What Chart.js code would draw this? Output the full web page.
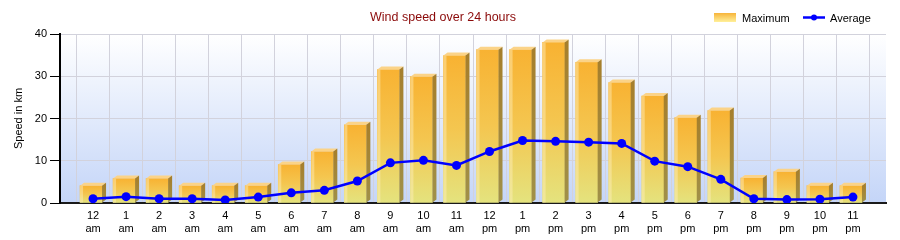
<!DOCTYPE html>
<html><head><meta charset="utf-8">
<script src="https://cdn.jsdelivr.net/npm/chart.js@4.4.1/dist/chart.umd.min.js"></script>
<style>html,body{margin:0;padding:0;background:#fff}canvas{display:block}</style>
</head><body>
<canvas id="c" width="900" height="240"></canvas>
<script>
const hours = ['12','1','2','3','4','5','6','7','8','9','10','11','12','1','2','3','4','5','6','7','8','9','10','11'];
const periods = ['am','am','am','am','am','am','am','am','am','am','am','am','pm','pm','pm','pm','pm','pm','pm','pm','pm','pm','pm','pm'];
const maximum = [4.1,5.8,5.8,4.1,4.1,4.1,9.1,12.2,18.5,31.6,29.9,34.9,36.3,36.3,38.0,33.3,28.5,25.3,20.2,21.9,5.9,7.4,4.1,4.1];
const average = [1.0,1.5,1.0,1.0,0.7,1.4,2.4,3.0,5.2,9.5,10.1,8.9,12.2,14.8,14.6,14.4,14.1,9.9,8.6,5.6,1.0,0.8,0.9,1.4];
const yTicks = [0,10,20,30,40];
const titleText = 'Wind speed over 24 hours';
const yTitle = 'Speed in km';
const seriesNames = ['Maximum','Average'];

const FONT = "'Liberation Sans', Arial, sans-serif";
Chart.defaults.font.family = FONT;

// padded category list: empty slot before and after
const labels = [''].concat(hours.map((h,i)=>[h, periods[i]])).concat(['']);
const maxData = [null].concat(maximum).concat([null]);
const avgData = [null].concat(average).concat([null]);

const DEPTH_X = 4, DEPTH_Y = 3;

const bgPlugin = {
  id:'bg',
  beforeDraw(chart){
    const {ctx, chartArea:a} = chart;
    if(!a) return;
    const g = ctx.createLinearGradient(0,a.top,0,a.bottom);
    g.addColorStop(0,'#ffffff');
    g.addColorStop(1,'#c4d5f8');
    ctx.save(); ctx.fillStyle=g; ctx.fillRect(a.left,a.top,a.right-a.left,a.bottom-a.top); ctx.restore();
  }
};

const shiftPlugin = {
  id:'shift',
  afterDatasetsUpdate(chart){
    const meta = chart.getDatasetMeta(0);
    meta.data.forEach(el=>{ if(!el.$shifted){ el.x -= DEPTH_X/2; el.$shifted = true; } });
  }
};

const bar3d = {
  id:'bar3d',
  afterDatasetDraw(chart, args){
    if(args.index!==0) return;
    const ctx = chart.ctx;
    args.meta.data.forEach((el,i)=>{
      if(maxData[i]==null) return;
      const w = el.width, l = el.x - w/2, r = el.x + w/2, t = el.y, b = el.base;
      ctx.save();
      ctx.fillStyle='rgba(255,240,190,0.45)';
      ctx.fillRect(l, t, 3, b-t);
      ctx.beginPath();
      ctx.moveTo(l,t); ctx.lineTo(r,t); ctx.lineTo(r+DEPTH_X,t-DEPTH_Y); ctx.lineTo(l+DEPTH_X,t-DEPTH_Y); ctx.closePath();
      ctx.fillStyle='#fbd388'; ctx.fill();
      ctx.beginPath();
      ctx.moveTo(r,t); ctx.lineTo(r+DEPTH_X,t-DEPTH_Y); ctx.lineTo(r+DEPTH_X,b-DEPTH_Y); ctx.lineTo(r,b); ctx.closePath();
      const sg = ctx.createLinearGradient(0,t,0,b);
      sg.addColorStop(0,'#a67f2c'); sg.addColorStop(1,'#a09048');
      ctx.fillStyle=sg; ctx.fill();
      ctx.restore();
    });
  }
};

const legendPlugin = {
  id:'customLegend',
  afterDraw(chart){
    const ctx = chart.ctx;
    ctx.save();
    const g = ctx.createLinearGradient(0,13,0,22);
    g.addColorStop(0,'#f7b43a'); g.addColorStop(1,'#fff09a');
    ctx.fillStyle=g; ctx.fillRect(714,13,22,9);
    ctx.font = "11px " + FONT; ctx.fillStyle='#000'; ctx.textBaseline='middle'; ctx.textAlign='left';
    ctx.fillText(seriesNames[0], 742, 18.5);
    ctx.strokeStyle='#0000ff'; ctx.lineWidth=2.5;
    ctx.beginPath(); ctx.moveTo(803,17.5); ctx.lineTo(825,17.5); ctx.stroke();
    ctx.fillStyle='#0000ff'; ctx.beginPath(); ctx.arc(814,17.5,3,0,Math.PI*2); ctx.fill();
    ctx.fillStyle='#000';
    ctx.fillText(seriesNames[1], 830, 18.5);
    ctx.restore();
  }
};

function barGradient(context){
  const chart = context.chart;
  const a = chart.chartArea;
  if(!a || context.raw==null) return '#f6c048';
  const y = chart.scales.y;
  const top = y.getPixelForValue(context.raw), base = y.getPixelForValue(0);
  if(!isFinite(top)||!isFinite(base)||base-top<1) return '#f6c048';
  const g = chart.ctx.createLinearGradient(0,top,0,base);
  g.addColorStop(0,'#f8b232');
  g.addColorStop(0.5,'#f4c650');
  g.addColorStop(1,'#e4e37e');
  return g;
}

new Chart(document.getElementById('c'), {
  data:{
    labels: labels,
    datasets:[
      {type:'bar', label:seriesNames[0], data:maxData, backgroundColor:barGradient, borderWidth:0, barThickness:22, order:1},
      {type:'line', label:seriesNames[1], data:avgData, borderColor:'#0000ff', backgroundColor:'#0000ff', borderWidth:2.5, pointRadius:4.5, pointBorderWidth:0, pointBackgroundColor:'#0000ff', tension:0, fill:false, order:0}
    ]
  },
  options:{
    responsive:false, animation:false, devicePixelRatio:1,
    layout:{padding:{left:0,right:14,top:0,bottom:0}},
    plugins:{
      title:{display:true, text:titleText, color:'#8b0a0a', font:{size:12.5, weight:'normal', family:FONT}, padding:{top:10,bottom:9}},
      legend:{display:false},
      tooltip:{enabled:false}
    },
    scales:{
      x:{
        type:'category', offset:false,
        grid:{color:'#d2d2dc', lineWidth:1, drawTicks:false},
        border:{color:'#1a1a1a', width:2},
        ticks:{autoSkip:false, maxRotation:0, minRotation:0, padding:6, color:'#000', font:{size:11, family:FONT}},
        afterFit(s){ s.height = 37; }
      },
      y:{
        min:0, max:40,
        afterBuildTicks(s){ s.ticks = yTicks.map(v=>({value:v})); },
        grid:{color:'#d2d2dc', lineWidth:1, drawTicks:true, tickLength:10, tickColor:'#000'},
        border:{color:'#000', width:2},
        ticks:{padding:3, color:'#000', font:{size:11, family:FONT}},
        title:{display:true, text:yTitle, color:'#000', font:{size:11, family:FONT}, padding:{top:12,bottom:0}},
        afterFit(s){ s.width = 60; }
      }
    }
  },
  plugins:[bgPlugin, shiftPlugin, bar3d, legendPlugin]
});
</script>
</body></html>
